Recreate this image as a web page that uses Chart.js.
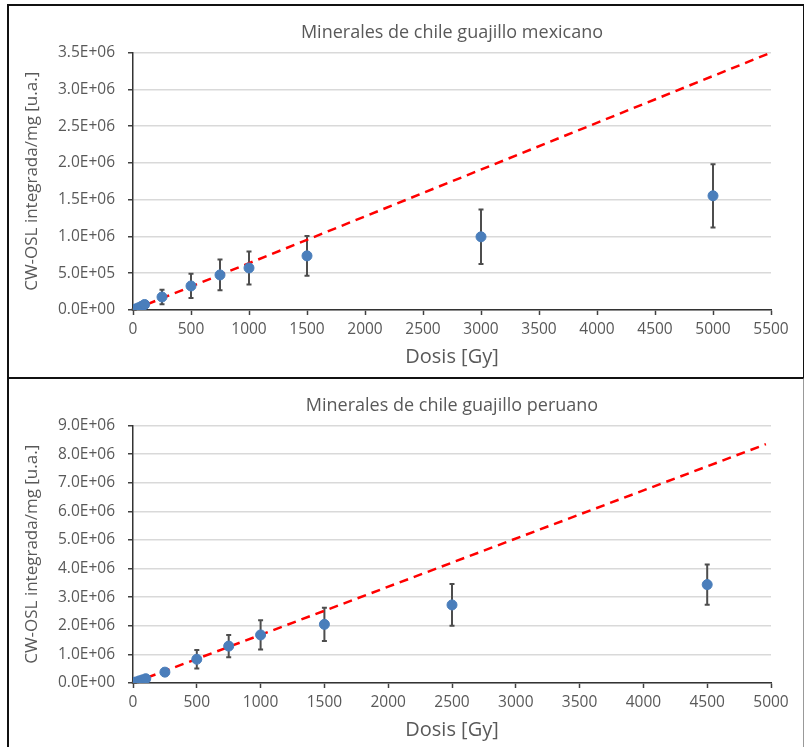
<!DOCTYPE html>
<html>
<head>
<meta charset="utf-8">
<script src="https://cdn.jsdelivr.net/npm/chart.js@4"></script>
<style>
  body { margin: 0; background: #fff; overflow: hidden; }
  .marco { position: absolute; left: 7px; width: 794px; background: #fff; }
  #marcoMx { top: 4px; height: 371px; border: 2px solid #111; }
  #marcoPe { top: 377px; height: 380px; border: 2px solid #111; border-right-color: #999; border-bottom: none; }
  canvas { display: block; }
</style>
</head>
<body>
<div class="marco" id="marcoMx"><canvas id="graficoMx" width="794" height="369"></canvas></div>
<div class="marco" id="marcoPe"><canvas id="graficoPe" width="794" height="369"></canvas></div>
<script>
// Datos: chile guajillo mexicano
const dosisMx = [0, 10, 25, 50, 75, 100, 250, 500, 750, 1000, 1500, 3000, 5000];
const oslMx = [0, 7e3, 1.6e4, 3.2e4, 5.2e4, 7.5e4, 1.77e5, 3.27e5, 4.77e5, 5.72e5, 7.36e5, 9.95e5, 1.553e6];
const errMx = [0, 2e3, 4e3, 8e3, 1.5e4, 3e4, 1.0e5, 1.65e5, 2.1e5, 2.25e5, 2.7e5, 3.7e5, 4.3e5];
const ajusteXMx = [0, 5500];
const ajusteYMx = [0, 3.5e6];

// Datos: chile guajillo peruano
const dosisPe = [0, 10, 25, 50, 75, 100, 250, 500, 750, 1000, 1500, 2500, 4500];
const oslPe = [0, 1.5e4, 3.8e4, 7.5e4, 1.1e5, 1.5e5, 3.8e5, 8.3e5, 1.29e6, 1.68e6, 2.05e6, 2.73e6, 3.44e6];
const errPe = [0, 5e3, 1e4, 2e4, 3e4, 4e4, 1.2e5, 3.2e5, 3.9e5, 5.1e5, 5.8e5, 7.3e5, 7.0e5];
const ajusteXPe = [0, 4960];
const ajusteYPe = [0, 8.35e6];

const gris = '#595959';
const fuente = '"Open Sans", sans-serif';

// Formato tipo Excel: 3.5E+06
function sci(v) {
    if (v === 0) return '0.0E+00';
    const e = Math.floor(Math.log10(Math.abs(v)) + 1e-9);
    const m = v / Math.pow(10, e);
    return m.toFixed(1) + 'E' + (e < 0 ? '-' : '+') + String(Math.abs(e)).padStart(2, '0');
}

// Barras de error dibujadas con las escalas del gráfico
const barrasError = {
    id: 'barrasError',
    beforeDatasetsDraw(chart) {
        const {ctx, scales: {x, y}} = chart;
        const ds = chart.data.datasets[0];
        ctx.save();
        ctx.strokeStyle = '#4d4d4d';
        ctx.lineWidth = 2;
        ds.data.forEach((p, i) => {
            const e = ds.err[i];
            if (!e) return;
            const px = x.getPixelForValue(p.x);
            const top = y.getPixelForValue(p.y + e);
            const bot = y.getPixelForValue(p.y - e);
            ctx.beginPath();
            ctx.moveTo(px, top); ctx.lineTo(px, bot);
            ctx.moveTo(px - 2.5, top); ctx.lineTo(px + 2.5, top);
            ctx.moveTo(px - 2.5, bot); ctx.lineTo(px + 2.5, bot);
            ctx.stroke();
        });
        ctx.restore();
    }
};

function crearGrafico(id, titulo, dosis, osl, err, ajX, ajY, yMax, yPaso, xMax) {
    new Chart(document.getElementById(id), {
        type: 'scatter',
        data: {
            datasets: [{
                data: dosis.map((d, i) => ({x: d, y: osl[i]})),
                err: err,
                backgroundColor: '#4a7ebb',
                borderColor: '#4a7ebb',
                pointRadius: 5,
                order: 1
            }, {
                type: 'line',
                data: ajX.map((d, i) => ({x: d, y: ajY[i]})),
                borderColor: '#ff0000',
                borderWidth: 2.5,
                borderDash: [9, 6],
                pointRadius: 0,
                fill: false,
                order: 2
            }]
        },
        options: {
            responsive: false,
            animation: false,
            layout: { padding: { left: 0, right: 32, top: 0, bottom: 0 } },
            plugins: {
                legend: { display: false },
                tooltip: { enabled: false },
                title: {
                    display: true,
                    fullSize: false,
                    text: titulo,
                    color: gris,
                    font: { family: fuente, size: 18, weight: 'normal' },
                    padding: { top: 16, bottom: 9 }
                }
            },
            scales: {
                x: {
                    type: 'linear',
                    min: 0, max: xMax,
                    ticks: {
                        stepSize: 500, color: gris, padding: 5,
                        font: { family: fuente, size: 15.5 },
                        callback: v => String(v)
                    },
                    grid: { color: 'transparent', tickColor: '#404040', tickLength: 5, tickWidth: 1.5 },
                    border: { color: '#333', width: 1.5 },
                    title: {
                        display: true, text: 'Dosis [Gy]', color: gris,
                        font: { family: fuente, size: 20 }, padding: { top: 0, bottom: 6 }
                    },
                    afterFit: s => { s.height = 65; }
                },
                y: {
                    min: 0, max: yMax,
                    ticks: {
                        stepSize: yPaso / 2, color: gris, padding: 13,
                        font: { family: fuente, size: 15.5 },
                        callback: v => (Math.round(v / yPaso * 2) % 2 === 0 ? sci(v) : '')
                    },
                    grid: {
                        color: c => (Math.round(c.tick.value / yPaso * 2) % 2 === 0 ? '#d9d9d9' : '#f2f2f2'),
                        lineWidth: c => (Math.round(c.tick.value / yPaso * 2) % 2 === 0 ? 1.5 : 1),
                        tickColor: c => (Math.round(c.tick.value / yPaso * 2) % 2 === 0 ? '#404040' : 'transparent'),
                        tickLength: 5,
                        tickWidth: 1.5
                    },
                    border: { color: '#333', width: 1.5 },
                    title: {
                        display: true, text: 'CW-OSL integrada/mg [u.a.]', color: gris,
                        font: { family: fuente, size: 17 }, padding: { top: 13, bottom: 0 }
                    },
                    afterFit: s => { s.width = 124; }
                }
            }
        },
        plugins: [barrasError]
    });
}

crearGrafico('graficoMx', 'Minerales de chile guajillo mexicano',
    dosisMx, oslMx, errMx, ajusteXMx, ajusteYMx, 3.5e6, 5e5, 5500);
crearGrafico('graficoPe', 'Minerales de chile guajillo peruano',
    dosisPe, oslPe, errPe, ajusteXPe, ajusteYPe, 9e6, 1e6, 5000);
</script>
</body>
</html>
